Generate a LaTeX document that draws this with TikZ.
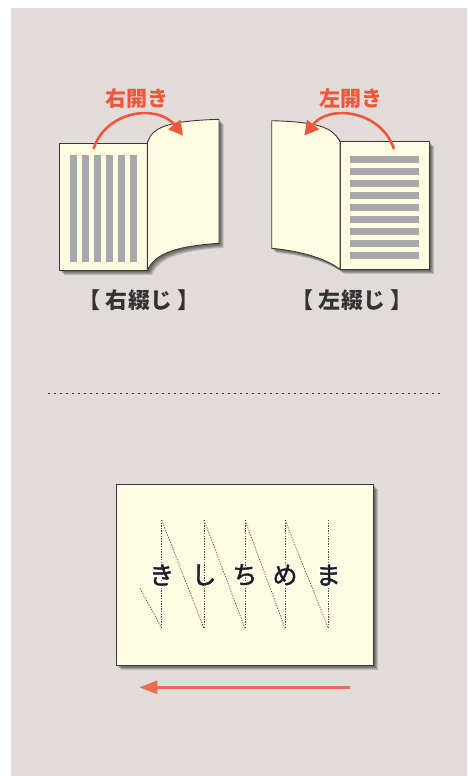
\documentclass[tikz,border=0pt]{standalone}
\usepackage{fontspec}
\newfontfamily\jp{Noto Sans CJK JP}
\usetikzlibrary{arrows.meta}

\definecolor{bgc}{HTML}{E1DCD9}
\definecolor{paper}{HTML}{FFFCE1}
\definecolor{barc}{HTML}{A7A8AB}
\definecolor{redc}{HTML}{F0573A}
\definecolor{redb}{HTML}{F06A50}
\definecolor{ink}{HTML}{333333}
\definecolor{edge}{HTML}{3A3A3A}

% page outlines (pixel grid, y pointing down)
\newcommand\pageRL{(147.3,142.7) .. controls (152,128) and (165,121) .. (219,119.3)
  -- (219,243.3) .. controls (180,246) and (155,252) .. (147.3,270.7) -- cycle}
\newcommand\pageLR{(340,141.7) .. controls (333,128) and (320,122) .. (271.7,120.7)
  -- (271.7,248.3) .. controls (300,251) and (325,258) .. (340,269.3) -- cycle}

% glyph with a white outline behind it (text render mode: fill + stroke)
\newcommand\halochar[1]{%
  \rlap{\special{pdf:literal 2 Tr 3.2 w 1 j}\textcolor{white}{#1}}%
  \special{pdf:literal 2 Tr 0.45 w 1 j}#1\special{pdf:literal 0 Tr}}

\tikzset{
  pagefill/.style={fill=paper, draw=edge, line width=0.9pt, line join=round},
  shadowlayer/.style={fill=black, opacity=0.16},
  barfill/.style={fill=barc},
  openarrow/.style={draw=redc, line width=2.6pt,
    -{Triangle[length=14pt,width=15pt]}},
  headtext/.style={text=redc, font=\jp\bfseries\fontsize{21}{21}\selectfont},
  labeltext/.style={text=ink, font=\jp\bfseries\fontsize{22}{22}\selectfont},
  kana/.style={text=black!88, font=\jp\fontsize{25}{25}\selectfont},
  readline/.style={draw=black!70, line width=0.7pt, dash pattern=on 1.3pt off 1.3pt},
  sepline/.style={draw=black!80, line width=1.3pt, dash pattern=on 1.3pt off 4.7pt},
}

\begin{document}
\begin{tikzpicture}[x=1pt,y=-1pt]
\useasboundingbox (0,0) rectangle (467,776);
\fill[white] (0,0) rectangle (467,776);
\fill[bgc] (11,8) rectangle (467,776);

% ---------- right-bound book ----------
\foreach \s in {1.5,2.5,3.5,4.5}{
  \fill[shadowlayer,shift={(\s,\s)}] (59,143) rectangle (147.3,270.7);
  \fill[shadowlayer,shift={(\s,\s)}] \pageRL;
}
\path[pagefill] (59,143) rectangle (147.3,270.7);
\path[pagefill] \pageRL;
\foreach \i in {0,...,5}
  \fill[barfill] ({70+12*\i},155) rectangle ({76.7+12*\i},262.3);

\coordinate (ra0) at (93.5,149);
\coordinate (ra1) at (183,135.5);
\draw[openarrow] (ra0) .. controls (106,110) and (158,104) .. (ra1);
\node[headtext] (rhead) at (137,99) {右開き};
\node[labeltext] (rlabel) at (139,300) {【 右綴じ 】};

% ---------- left-bound book ----------
\foreach \s in {1.5,2.5,3.5,4.5}{
  \fill[shadowlayer,shift={(\s,\s)}] (340,141.7) rectangle (429,269.3);
  \fill[shadowlayer,shift={(\s,\s)}] \pageLR;
}
\path[pagefill] (340,141.7) rectangle (429,269.3);
\path[pagefill] \pageLR;
\foreach \i in {0,...,8}
  \fill[barfill] (350,{156+12*\i}) rectangle (419,{162.7+12*\i});

\coordinate (la0) at (394,149);
\coordinate (la1) at (304.5,135.5);
\draw[openarrow] (la0) .. controls (381,110) and (329,104) .. (la1);
\node[headtext] (lhead) at (351,99) {左開き};
\node[labeltext] (llabel) at (352,300) {【 左綴じ 】};

% ---------- separator ----------
\coordinate (sep0) at (48.3,393.3);
\coordinate (sep1) at (440,393.3);
\draw[sepline] (sep0) -- (sep1);

% ---------- horizontal card with vertical reading order ----------
\foreach \s in {1.5,2.5,3.5,4.5}
  \fill[shadowlayer,shift={(\s,\s)}] (116,484.3) rectangle (373.3,665);
\path[pagefill] (116,484.3) rectangle (373.3,665);

\foreach \n/\x in {1/161.7,2/204,3/245,4/285,5/328.3}{
  \coordinate (t\n) at (\x,520);
  \coordinate (b\n) at (\x,628.3);
}
\coordinate (b0) at (139.3,587.3);
\foreach \n in {1,...,5}
  \draw[readline] (t\n) -- (b\n);
\foreach \n/\m in {1/2,2/3,3/4,4/5}
  \draw[readline] (t\n) -- (b\m);
\draw[readline] (b1) -- (b0);

\foreach \n/\x/\c in {1/161.7/き,2/204/し,3/245/ち,4/285/め,5/328.3/ま}
  \node[kana] (k\n) at (\x,575) {\halochar{\c}};

\coordinate (ar0) at (350,687.3);
\coordinate (ar1) at (139.3,687.3);
\draw[draw=redb, line width=2.6pt, -{Triangle[length=18pt,width=13pt]}] (ar0) -- (ar1);
\end{tikzpicture}
\end{document}
